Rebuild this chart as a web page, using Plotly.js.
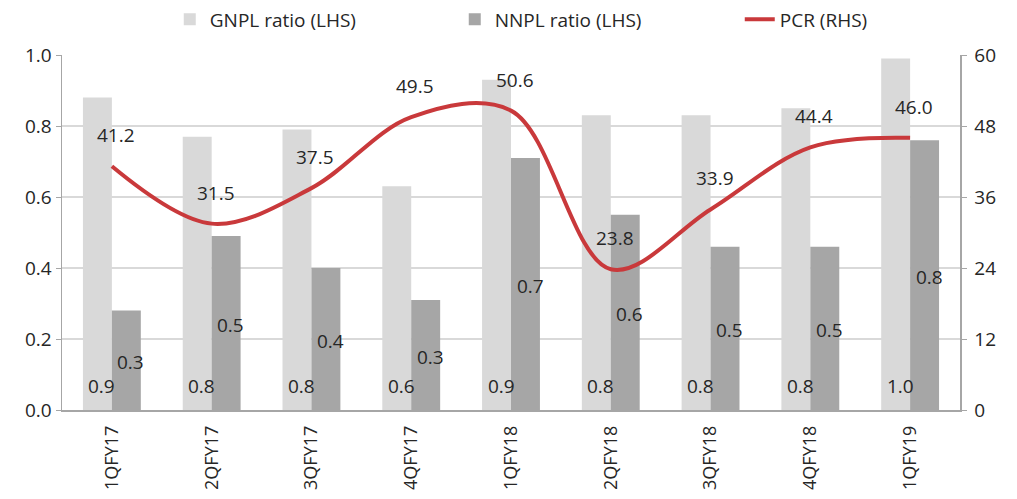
<!DOCTYPE html>
<html>
<head>
<meta charset="utf-8">
<script src="https://cdn.plot.ly/plotly-3.0.1.min.js"></script>
<style>html,body{margin:0;padding:0;background:#fff;}#chart{width:1017px;height:499px;}</style>
</head>
<body>
<div id="chart"></div>
<script>
const categories = ["1QFY17","2QFY17","3QFY17","4QFY17","1QFY18","2QFY18","3QFY18","4QFY18","1QFY19"];
const gnplRatio = [0.88, 0.77, 0.79, 0.63, 0.93, 0.83, 0.83, 0.85, 0.99];
const nnplRatio = [0.28, 0.49, 0.40, 0.31, 0.71, 0.55, 0.46, 0.46, 0.76];
const pcr = [41.2, 31.5, 37.5, 49.5, 50.6, 23.8, 33.9, 44.4, 46.0];
const leftTicks = [0, 0.2, 0.4, 0.6, 0.8, 1.0];
const rightTicks = [0, 12, 24, 36, 48, 60];

const fontFam = "'Open Sans', 'Noto Sans', sans-serif";
const textColor = "#262626";
const fs = 19;

const traces = [
  {type:"bar", name:"GNPL ratio (LHS)", x:categories, y:gnplRatio, marker:{color:"#D9D9D9"}, hoverinfo:"skip"},
  {type:"bar", name:"NNPL ratio (LHS)", x:categories, y:nnplRatio, marker:{color:"#A6A6A6"}, hoverinfo:"skip"},
  {type:"scatter", mode:"lines", name:"PCR (RHS)", x:categories, y:pcr, yaxis:"y2",
   line:{color:"#C9393B", width:4, shape:"spline", smoothing:1}, hoverinfo:"skip"}
];

const annotations = [];
categories.forEach((c,i)=>{
  annotations.push({x:c, y:0, yref:"y", xref:"x", text:gnplRatio[i].toFixed(1), showarrow:false,
    yanchor:"bottom", xshift:-10, yshift:9, font:{size:fs, color:textColor, family:fontFam}});
  annotations.push({x:c, y:nnplRatio[i]/2, yref:"y", xref:"x", text:nnplRatio[i].toFixed(1), showarrow:false,
    yanchor:"middle", xshift:19, yshift:-2, font:{size:fs, color:textColor, family:fontFam}});
  annotations.push({x:c, y:pcr[i], yref:"y2", xref:"x", text:pcr[i].toFixed(1), showarrow:false,
    yanchor:"middle", xshift:4, yshift:31, font:{size:fs, color:textColor, family:fontFam}});
});

const layout = {
  width:1017, height:499,
  margin:{l:62, r:57, t:55, b:89, autoexpand:false},
  paper_bgcolor:"#fff", plot_bgcolor:"#fff",
  font:{family:fontFam, color:textColor, size:fs},
  barmode:"group", bargap:0.42, bargroupgap:0,
  showlegend:true,
  legend:{orientation:"h", x:0.12, xanchor:"left", y:1.1, yanchor:"middle",
    font:{size:fs, color:textColor, family:fontFam}, entrywidth:240, traceorder:"normal"},
  xaxis:{type:"category", tickangle:-90, showline:true, linecolor:"#A6A6A6", linewidth:1.5,
    ticks:"", showgrid:false, tickfont:{size:18, color:textColor}, ticklabelstandoff:7, fixedrange:true},
  yaxis:{range:[0,1], tickvals:leftTicks, ticktext:leftTicks.map(v=>v.toFixed(1)),
    showline:true, linecolor:"#A6A6A6", linewidth:1.5, ticks:"outside", ticklen:5, tickcolor:"#A6A6A6",
    showgrid:true, gridcolor:"#D9D9D9", gridwidth:1.5, zeroline:false, tickfont:{size:fs, color:textColor}},
  yaxis2:{range:[0,60], tickvals:rightTicks, overlaying:"y", side:"right",
    showline:true, linecolor:"#A6A6A6", linewidth:1.5, ticks:"outside", ticklen:5, tickcolor:"#A6A6A6",
    showgrid:false, zeroline:false, tickfont:{size:fs, color:textColor}, ticklabelstandoff:4},
  annotations:annotations
};

Plotly.newPlot("chart", traces, layout, {displayModeBar:false, staticPlot:true});
</script>
</body>
</html>
